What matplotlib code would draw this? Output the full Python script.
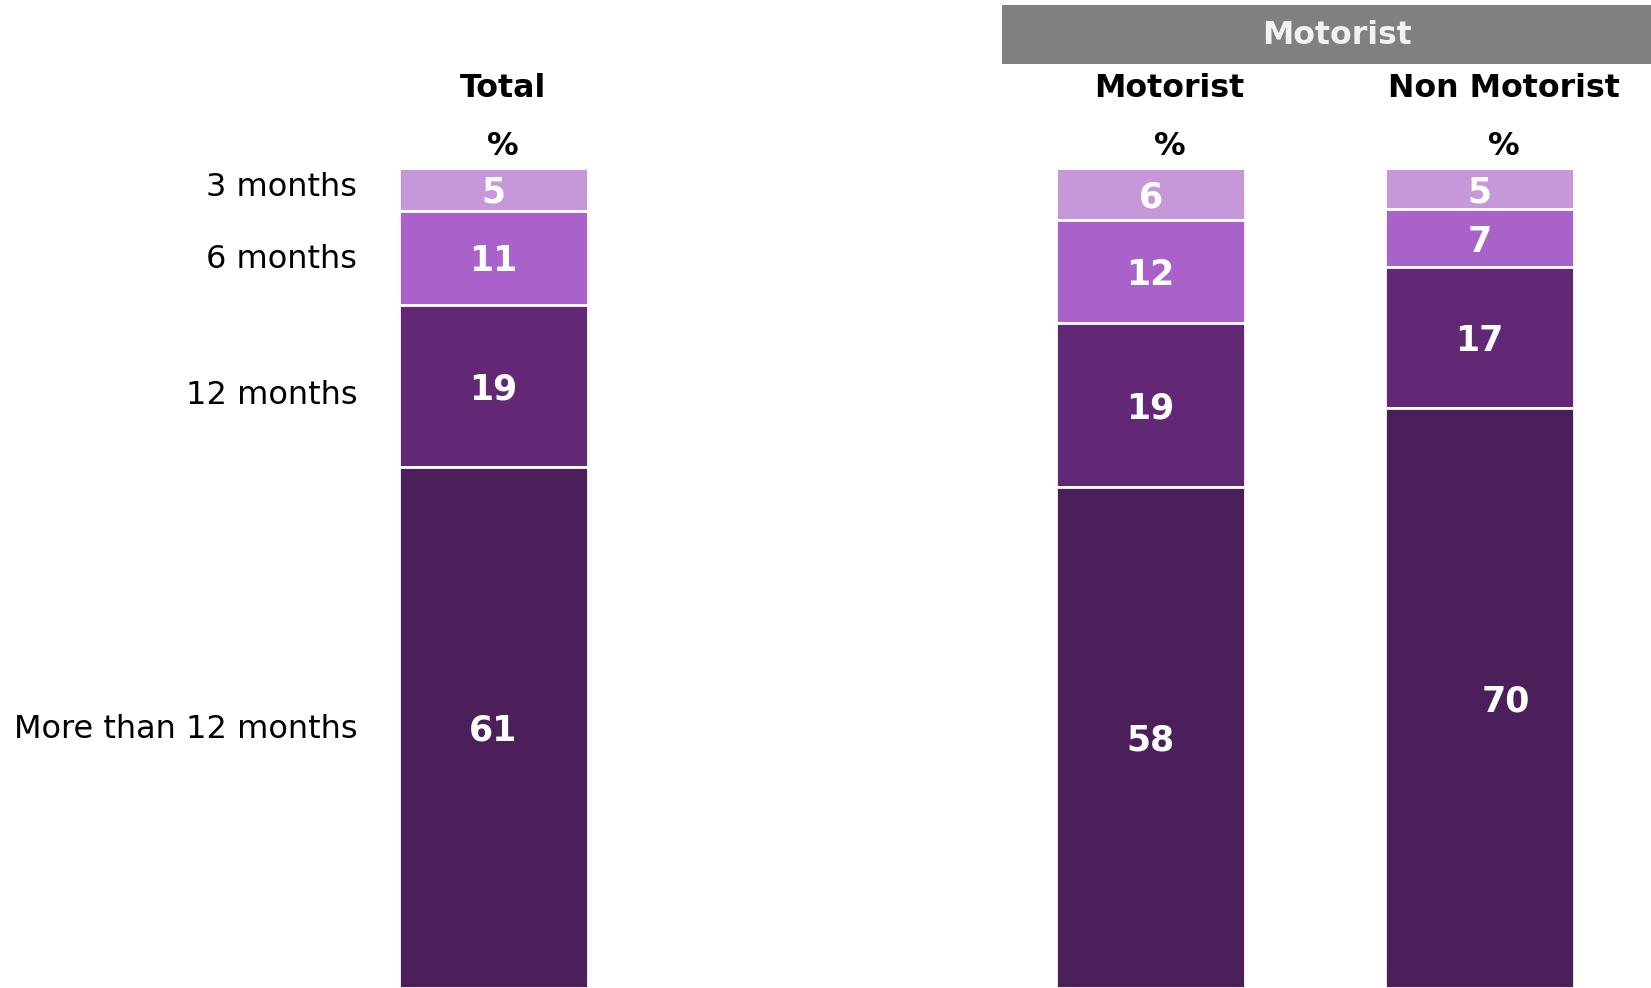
import matplotlib
matplotlib.use("Agg")
import matplotlib.pyplot as plt
from matplotlib.patches import Rectangle
import numpy as np

# --- Data ---
groups = ["Total", "Motorist", "Non Motorist"]
periods = ["3 months", "6 months", "12 months", "More than 12 months"]
three_months = [5, 6, 5]
six_months = [11, 12, 7]
twelve_months = [19, 19, 17]
more_than_12 = [61, 58, 70]

colors = ["#C698DA", "#A962C9", "#622876", "#4B1F5A"]

# --- Layout ---
x_pos = np.array([0.0, 3.476, 5.217])
bar_w = 1.0
header_dx = [0.05, 0.1, 0.13]          # headers sit slightly right of the bar centres
row_label_dy = [-0.2, 0.2, 1.2, 0.2]   # small nudges for the row labels

series = np.array([three_months, six_months, twelve_months, more_than_12], dtype=float)
shares = series / series.sum(axis=0) * 100  # 100% stacked, like the original

fig = plt.figure(figsize=(16.51, 9.88), dpi=100)
ax = fig.add_axes([0, 0, 1, 1])

bottom = np.zeros(len(groups))
for i, period in enumerate(periods):
    ax.bar(x_pos, shares[i], bar_w, bottom=bottom, color=colors[i],
           edgecolor="white", linewidth=2)
    for j in range(len(groups)):
        dx = 0.14 if (i == 3 and j == 2) else 0.0
        ax.text(x_pos[j] + dx, bottom[j] + shares[i][j] / 2 + 0.4, f"{int(series[i][j])}",
                ha="center", va="center", color="white", fontsize=25,
                fontweight="bold")
    # row labels next to the Total column
    ax.text(x_pos[0] - 0.72, bottom[0] + shares[i][0] / 2 + row_label_dy[i], period,
            ha="right", va="center", color="black", fontsize=23)
    bottom += shares[i]

ax.set_xlim(-2.611, 6.124)
ax.set_ylim(100, -20.49)
ax.axis("off")

# column headers
for j, g in enumerate(groups):
    ax.text(x_pos[j] + header_dx[j], -9.7, g, ha="center", va="center",
            fontsize=22.8, fontweight="bold")
    ax.text(x_pos[j] + header_dx[j], -2.6, "%", ha="center", va="center",
            fontsize=22.8, fontweight="bold")

# grey banner over the motorist split
fig.patches.append(Rectangle((1002 / 1651, 1 - 64 / 988), 1 - 1002 / 1651, 59 / 988,
                             transform=fig.transFigure, facecolor="#808080",
                             edgecolor="none", zorder=0))
fig.text((1002 / 1651 + 1) / 2 + 10 / 1651, 1 - 35 / 988, "Motorist", ha="center",
         va="center", color="#F2F2F2", fontsize=22.7, fontweight="bold")

plt.savefig("out.png", dpi=100)
plt.close()
